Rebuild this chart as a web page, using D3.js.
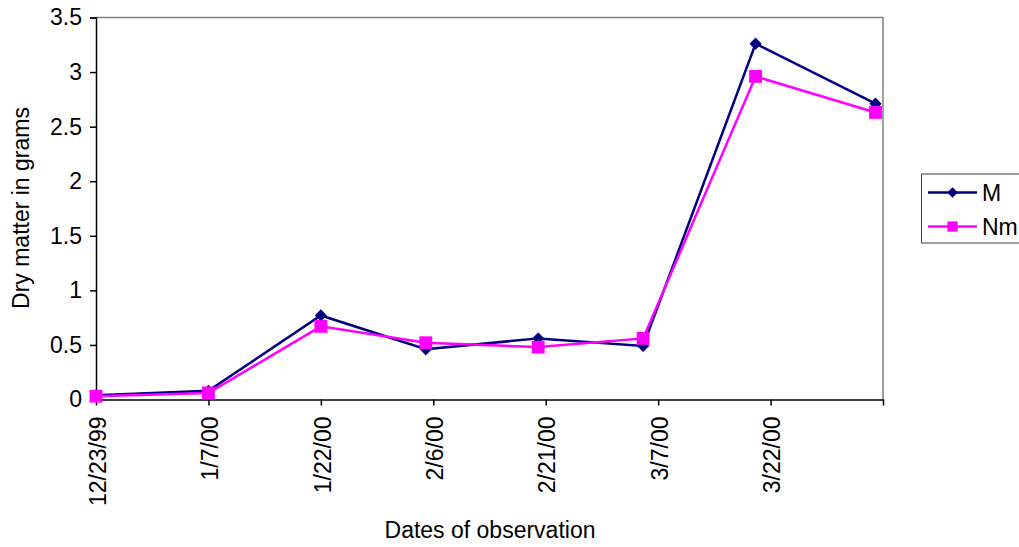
<!DOCTYPE html>
<html>
<head>
<meta charset="utf-8">
<script src="https://cdn.jsdelivr.net/npm/d3@7"></script>
<style>
  html, body { margin: 0; padding: 0; background: #fff; }
  svg { display: block; }
  text { font-family: "Liberation Sans", Arial, sans-serif; fill: #000; }
</style>
</head>
<body>
<svg id="chart" width="1019" height="547"></svg>
<script>
// Observation dates and dry matter (g) for the two treatments
const obsDates = ["1999-12-23", "2000-01-07", "2000-01-22", "2000-02-05",
                  "2000-02-20", "2000-03-05", "2000-03-20", "2000-04-05"];
const seriesM  = [0.04, 0.08, 0.77, 0.46, 0.56, 0.49, 3.26, 2.71];
const seriesNm = [0.03, 0.06, 0.67, 0.52, 0.48, 0.56, 2.96, 2.63];

// Date axis ticks (every 15 days) and their labels
const xTickDates  = ["1999-12-23", "2000-01-07", "2000-01-22", "2000-02-06",
                     "2000-02-21", "2000-03-07", "2000-03-22", "2000-04-06"];
const xTickLabels = ["12/23/99", "1/7/00", "1/22/00", "2/6/00",
                     "2/21/00", "3/7/00", "3/22/00", ""];
const yTicks = [0, 0.5, 1, 1.5, 2, 2.5, 3, 3.5];

const seriesNames  = ["M", "Nm"];
const seriesColors = ["#000080", "#FF00FF"];

const parse = d3.timeParse("%Y-%m-%d");
const svg = d3.select("#chart");

const plot = { left: 96, right: 883, top: 17.5, bottom: 399.5 };

const x = d3.scaleTime()
  .domain([parse(xTickDates[0]), parse(xTickDates[xTickDates.length - 1])])
  .range([plot.left, plot.right]);
const y = d3.scaleLinear().domain([0, 3.5]).range([plot.bottom, plot.top]);

const fontSize = 23;

// Plot area frame (top and right edges)
svg.append("path")
  .attr("d", `M${plot.left},${plot.top}H${plot.right}V${plot.bottom}`)
  .attr("fill", "none").attr("stroke", "#808080").attr("stroke-width", 1.5);

// Y axis
const yAxis = d3.axisLeft(y).tickValues(yTicks).tickSize(6).tickPadding(8)
  .tickFormat(d3.format("~g"));
const gy = svg.append("g").attr("transform", `translate(${plot.left},0)`).call(yAxis);
gy.select(".domain").attr("stroke", "#000").attr("stroke-width", 1.5);
gy.selectAll(".tick line").attr("stroke", "#000").attr("stroke-width", 1.5);
gy.selectAll(".tick text")
  .attr("font-size", fontSize).attr("font-family", "Liberation Sans, Arial, sans-serif")
  .attr("fill", "#000");

// X axis with rotated date labels
const tickDates = xTickDates.map(parse);
const xAxis = d3.axisBottom(x).tickValues(tickDates).tickSize(6).tickSizeOuter(0)
  .tickFormat((d, i) => xTickLabels[i]);
const gx = svg.append("g").attr("transform", `translate(0,${plot.bottom})`).call(xAxis);
gx.select(".domain").attr("stroke", "#000").attr("stroke-width", 1.5);
gx.selectAll(".tick line").attr("stroke", "#000").attr("stroke-width", 1.5);
gx.selectAll(".tick text")
  .attr("font-size", fontSize).attr("font-family", "Liberation Sans, Arial, sans-serif")
  .attr("fill", "#000")
  .attr("text-anchor", "end")
  .attr("transform", "rotate(-90)")
  .attr("x", -17).attr("y", 1).attr("dy", "0.36em");

// Axis titles
svg.append("text")
  .attr("x", 490).attr("y", 538)
  .attr("text-anchor", "middle").attr("font-size", fontSize)
  .text("Dates of observation");
svg.append("text")
  .attr("transform", "translate(29,208) rotate(-90)")
  .attr("text-anchor", "middle").attr("font-size", fontSize)
  .text("Dry matter in grams");

// Series lines and markers
const allSeries = [seriesM, seriesNm];
const line = d3.line()
  .x((d, i) => x(parse(obsDates[i])))
  .y(d => y(d));

const markerPath = [
  d3.symbol().type(d3.symbolDiamond2).size(95)(),
  d3.symbol().type(d3.symbolSquare).size(165)()
];

allSeries.forEach((vals, s) => {
  const g = svg.append("g");
  g.append("path").datum(vals)
    .attr("d", line)
    .attr("fill", "none")
    .attr("stroke", seriesColors[s])
    .attr("stroke-width", 2.5);
  g.selectAll("path.mk").data(vals).join("path")
    .attr("class", "mk")
    .attr("d", markerPath[s])
    .attr("transform", (d, i) => `translate(${x(parse(obsDates[i]))},${y(d)})`)
    .attr("fill", seriesColors[s]);
});

// Legend
const legend = svg.append("g");
legend.append("rect")
  .attr("x", 921.5).attr("y", 174).attr("width", 110).attr("height", 69)
  .attr("fill", "#fff").attr("stroke", "#404040").attr("stroke-width", 1);
const legendMarkers = [
  d3.symbol().type(d3.symbolDiamond2).size(70)(),
  d3.symbol().type(d3.symbolSquare).size(105)()
];
seriesNames.forEach((name, s) => {
  const ly = 192.5 + s * 34;
  legend.append("line")
    .attr("x1", 928).attr("x2", 977).attr("y1", ly).attr("y2", ly)
    .attr("stroke", seriesColors[s]).attr("stroke-width", 2.5);
  legend.append("path")
    .attr("d", legendMarkers[s])
    .attr("transform", `translate(952.5,${ly})`)
    .attr("fill", seriesColors[s]);
  legend.append("text")
    .attr("x", 982).attr("y", ly).attr("dy", "0.36em")
    .attr("font-size", fontSize)
    .text(name);
});
</script>
</body>
</html>
